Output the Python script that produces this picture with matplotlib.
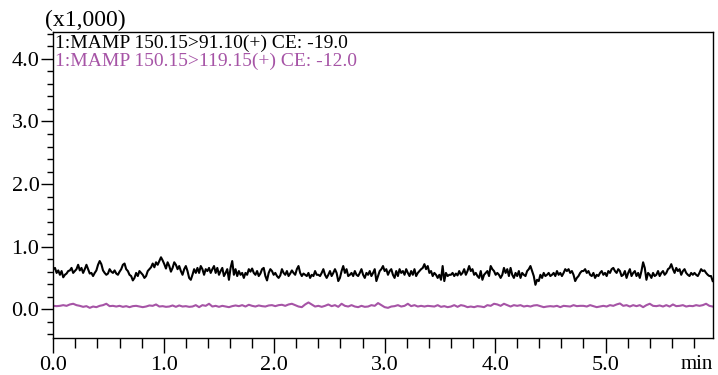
import numpy as np
import matplotlib.pyplot as plt
from matplotlib.ticker import MultipleLocator

# trace 1 (black), uniformly spaced in time from 0.0 to ~5.97 min
black_vals = [
    0.64, 0.66, 0.58, 0.62, 0.55, 0.61, 0.51, 0.55, 0.57, 0.61, 0.62, 0.66, 0.58, 0.61, 0.64, 0.71,
    0.62, 0.66, 0.58, 0.64, 0.71, 0.64, 0.57, 0.58, 0.53, 0.58, 0.62, 0.71, 0.77, 0.72, 0.62, 0.58,
    0.55, 0.57, 0.64, 0.60, 0.58, 0.62, 0.57, 0.55, 0.60, 0.64, 0.71, 0.73, 0.64, 0.61, 0.55, 0.53,
    0.46, 0.50, 0.58, 0.53, 0.61, 0.58, 0.55, 0.50, 0.53, 0.61, 0.64, 0.67, 0.73, 0.67, 0.75, 0.71,
    0.77, 0.83, 0.78, 0.72, 0.65, 0.75, 0.69, 0.60, 0.66, 0.75, 0.71, 0.64, 0.69, 0.61, 0.55, 0.64,
    # 1.2 - 2.4 min
    0.69, 0.61, 0.50, 0.47, 0.55, 0.64, 0.58, 0.66, 0.58, 0.69, 0.64, 0.55, 0.64, 0.61, 0.66, 0.58,
    0.64, 0.69, 0.58, 0.66, 0.55, 0.61, 0.66, 0.53, 0.58, 0.64, 0.47, 0.66, 0.77, 0.55, 0.64, 0.53,
    0.61, 0.55, 0.58, 0.50, 0.58, 0.55, 0.64, 0.60, 0.65, 0.58, 0.55, 0.61, 0.53, 0.57, 0.64, 0.66,
    0.53, 0.46, 0.58, 0.64, 0.61, 0.55, 0.58, 0.53, 0.50, 0.54, 0.64, 0.58, 0.55, 0.61, 0.53, 0.57,
    0.62, 0.58, 0.55, 0.64, 0.69, 0.58, 0.53, 0.57, 0.55, 0.53, 0.58, 0.50, 0.55, 0.53, 0.61, 0.55,
    # 2.4 - 3.6 min
    0.55, 0.53, 0.58, 0.64, 0.55, 0.50, 0.55, 0.61, 0.53, 0.58, 0.64, 0.58, 0.45, 0.50, 0.61, 0.69,
    0.58, 0.64, 0.53, 0.55, 0.58, 0.53, 0.61, 0.55, 0.53, 0.58, 0.64, 0.55, 0.50, 0.58, 0.55, 0.61,
    0.53, 0.58, 0.64, 0.45, 0.53, 0.61, 0.64, 0.69, 0.61, 0.64, 0.55, 0.61, 0.64, 0.55, 0.50, 0.61,
    0.53, 0.64, 0.58, 0.61, 0.55, 0.64, 0.58, 0.53, 0.61, 0.55, 0.64, 0.53, 0.58, 0.61, 0.64, 0.66,
    0.72, 0.64, 0.69, 0.58, 0.61, 0.53, 0.58, 0.55, 0.50, 0.55, 0.47, 0.69, 0.45, 0.58, 0.53, 0.55,
    # 3.6 - 4.8 min
    0.55, 0.58, 0.53, 0.57, 0.54, 0.61, 0.55, 0.58, 0.64, 0.55, 0.61, 0.69, 0.61, 0.64, 0.55, 0.58,
    0.53, 0.50, 0.61, 0.47, 0.55, 0.58, 0.61, 0.53, 0.69, 0.64, 0.61, 0.55, 0.58, 0.55, 0.50, 0.55,
    0.66, 0.58, 0.64, 0.53, 0.66, 0.55, 0.50, 0.58, 0.53, 0.61, 0.50, 0.58, 0.55, 0.53, 0.61, 0.64,
    0.69, 0.61, 0.53, 0.39, 0.47, 0.45, 0.55, 0.50, 0.58, 0.53, 0.55, 0.58, 0.53, 0.55, 0.58, 0.53,
    0.61, 0.55, 0.58, 0.53, 0.58, 0.64, 0.61, 0.64, 0.58, 0.61, 0.55, 0.45, 0.50, 0.53, 0.58, 0.61,
    # 4.8 - 6.0 min
    0.61, 0.64, 0.58, 0.61, 0.55, 0.53, 0.58, 0.50, 0.55, 0.53, 0.58, 0.61, 0.55, 0.58, 0.53, 0.61,
    0.58, 0.64, 0.66, 0.61, 0.58, 0.64, 0.61, 0.53, 0.55, 0.61, 0.50, 0.58, 0.64, 0.53, 0.58, 0.61,
    0.53, 0.58, 0.50, 0.61, 0.75, 0.66, 0.47, 0.58, 0.55, 0.50, 0.58, 0.53, 0.55, 0.61, 0.53, 0.58,
    0.61, 0.55, 0.58, 0.64, 0.66, 0.72, 0.64, 0.58, 0.66, 0.61, 0.64, 0.55, 0.61, 0.64, 0.58, 0.55,
    0.53, 0.58, 0.55, 0.58, 0.55, 0.53, 0.58, 0.64, 0.61, 0.62, 0.58, 0.55, 0.53, 0.53, 0.45,
]

# trace 2 (purple)
purple_vals = [
    0.054, 0.049, 0.054, 0.065, 0.054, 0.076, 0.087, 0.065, 0.054, 0.038, 0.049, 0.022, 0.043, 0.033,
    0.054, 0.065, 0.087, 0.049, 0.054, 0.043, 0.054, 0.038, 0.049, 0.033, 0.049, 0.054, 0.043, 0.033,
    0.043, 0.060, 0.054, 0.076, 0.043, 0.049, 0.038, 0.043, 0.060, 0.038, 0.060, 0.043,
    0.049, 0.038, 0.043, 0.065, 0.033, 0.065, 0.054, 0.087, 0.043, 0.054, 0.038, 0.054, 0.043, 0.033,
    0.049, 0.060, 0.049, 0.065, 0.043, 0.071, 0.054, 0.043, 0.060, 0.049, 0.043, 0.060, 0.065, 0.049,
    0.065, 0.071, 0.054, 0.076, 0.087, 0.065, 0.043, 0.033, 0.076, 0.108, 0.076, 0.043,
    0.054, 0.038, 0.054, 0.076, 0.049, 0.065, 0.038, 0.087, 0.054, 0.043, 0.065, 0.043, 0.033, 0.054,
    0.038, 0.043, 0.065, 0.054, 0.098, 0.065, 0.033, 0.022, 0.043, 0.049, 0.065, 0.043, 0.054, 0.087,
    0.049, 0.065, 0.043, 0.054, 0.043, 0.054, 0.049, 0.043, 0.065, 0.038, 0.049, 0.033,
    0.043, 0.065, 0.038, 0.065, 0.054, 0.033, 0.043, 0.033, 0.049, 0.043, 0.033, 0.065, 0.054, 0.087,
    0.076, 0.054, 0.087, 0.065, 0.043, 0.065, 0.054, 0.065, 0.043, 0.054, 0.043, 0.060, 0.065, 0.049,
    0.033, 0.043, 0.049, 0.043, 0.054, 0.033, 0.054, 0.049, 0.043, 0.065, 0.049, 0.054,
    0.054, 0.043, 0.065, 0.049, 0.033, 0.043, 0.054, 0.043, 0.065, 0.054, 0.076, 0.092, 0.054, 0.065,
    0.043, 0.065, 0.049, 0.065, 0.033, 0.065, 0.087, 0.054, 0.049, 0.060, 0.043, 0.065, 0.043, 0.076,
    0.049, 0.054, 0.065, 0.043, 0.054, 0.049, 0.065, 0.054, 0.065, 0.087, 0.054, 0.043,
]

x_ticks = [0.0, 1.0, 2.0, 3.0, 4.0, 5.0]
x_tick_labels = ['0.0', '1.0', '2.0', '3.0', '4.0', '5.0']
y_ticks = [0.0, 1.0, 2.0, 3.0, 4.0]
y_tick_labels = ['0.0', '1.0', '2.0', '3.0', '4.0']
label_black = '1:MAMP 150.15>91.10(+) CE: -19.0'
label_purple = '1:MAMP 150.15>119.15(+) CE: -12.0'

t_end = 5.97
purple = '#a654a6'

plt.rcParams['font.family'] = ['Liberation Serif', 'DejaVu Serif']
plt.rcParams['font.size'] = 14

fig = plt.figure(figsize=(7.18, 3.75), dpi=100)
ax = fig.add_axes([53.3 / 718, 37 / 375, 659.4 / 718, 306 / 375])

t_black = np.linspace(0, t_end, len(black_vals))
t_purple = np.linspace(0, t_end, len(purple_vals))
ax.plot(t_black, black_vals, color='black', lw=1.5)
ax.plot(t_purple, purple_vals, color=purple, lw=1.5)

ax.set_xlim(0, t_end)
ax.set_ylim(-0.46, 4.43)

ax.set_xticks(x_ticks)
ax.set_xticklabels(x_tick_labels, fontsize=16)
ax.set_yticks(y_ticks)
ax.set_yticklabels(y_tick_labels, fontsize=16)
ax.xaxis.set_minor_locator(MultipleLocator(0.2))
ax.yaxis.set_minor_locator(MultipleLocator(0.2))
ax.tick_params(axis='x', which='major', direction='out', length=11, width=1, pad=2)
ax.tick_params(axis='x', which='minor', direction='out', length=7, width=1)
ax.tick_params(axis='y', which='major', direction='out', length=9, width=1, pad=1)
ax.tick_params(axis='y', which='minor', direction='out', length=4, width=1)

for s in ax.spines.values():
    s.set_linewidth(1.0)

# unit label on the x axis and scale factor above the y axis
ax.text(1.0, -0.087, 'min', transform=ax.transAxes, ha='right', va='center', fontsize=15)
fig.text(45 / 718, 1 - 20 / 375, '(x1,000)', ha='left', va='center', fontsize=17)

# trace labels
fig.text(55 / 718, 1 - 48 / 375, label_black, color='black', ha='left', va='baseline', fontsize=14)
fig.text(55 / 718, 1 - 66 / 375, label_purple, color=purple, ha='left', va='baseline', fontsize=14)

fig.savefig('out.png', dpi=100)
